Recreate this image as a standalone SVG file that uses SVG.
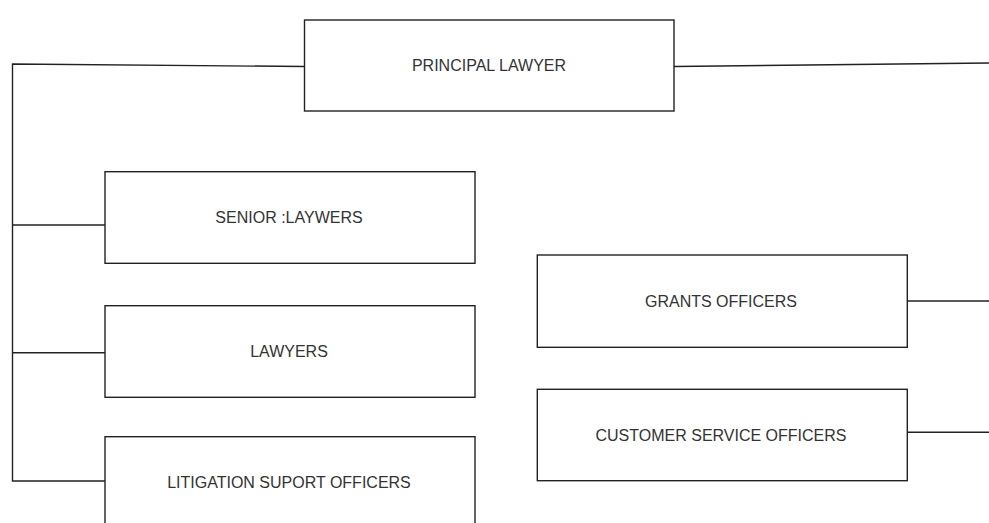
<svg xmlns="http://www.w3.org/2000/svg" width="989" height="523" viewBox="0 0 989 523">
<style>
.box{fill:#fff;stroke:#222;stroke-width:1.4}
.lbl{font-family:"Liberation Sans",Arial,sans-serif;font-size:16px;fill:#333;text-anchor:middle}
.conn{fill:none;stroke:#222;stroke-width:1.4}
</style>
<rect width="989" height="523" fill="#fff"/>
<g id="connectors">
<path class="conn" d="M304.5,66.5 L12.5,64 L12.5,481 L105,481"/>
<path class="conn" d="M12.5,225 L105,225"/>
<path class="conn" d="M12.5,352.7 L105,352.7"/>
<path class="conn" d="M674,66.5 L989,63"/>
<path class="conn" d="M907.3,301 L989,301"/>
<path class="conn" d="M907.3,432.3 L989,432.3"/>
</g>
<g id="principal-lawyer">
<rect class="box" x="304.5" y="20" width="369.5" height="91"/>
<text class="lbl" x="489" y="71">PRINCIPAL LAWYER</text>
</g>
<g id="senior-lawyers">
<rect class="box" x="105" y="171.7" width="370" height="91.6"/>
<text class="lbl" x="289" y="223">SENIOR :LAYWERS</text>
</g>
<g id="lawyers">
<rect class="box" x="105" y="305.7" width="370" height="91.6"/>
<text class="lbl" x="289" y="357">LAWYERS</text>
</g>
<g id="litigation-support-officers">
<rect class="box" x="105" y="436.7" width="370" height="100"/>
<text class="lbl" x="289" y="488">LITIGATION SUPORT OFFICERS</text>
</g>
<g id="grants-officers">
<rect class="box" x="537.3" y="255" width="370" height="92.3"/>
<text class="lbl" x="721" y="306.7">GRANTS OFFICERS</text>
</g>
<g id="customer-service-officers">
<rect class="box" x="537.3" y="389.3" width="370" height="91.4"/>
<text class="lbl" x="721" y="440.5">CUSTOMER SERVICE OFFICERS</text>
</g>
</svg>
